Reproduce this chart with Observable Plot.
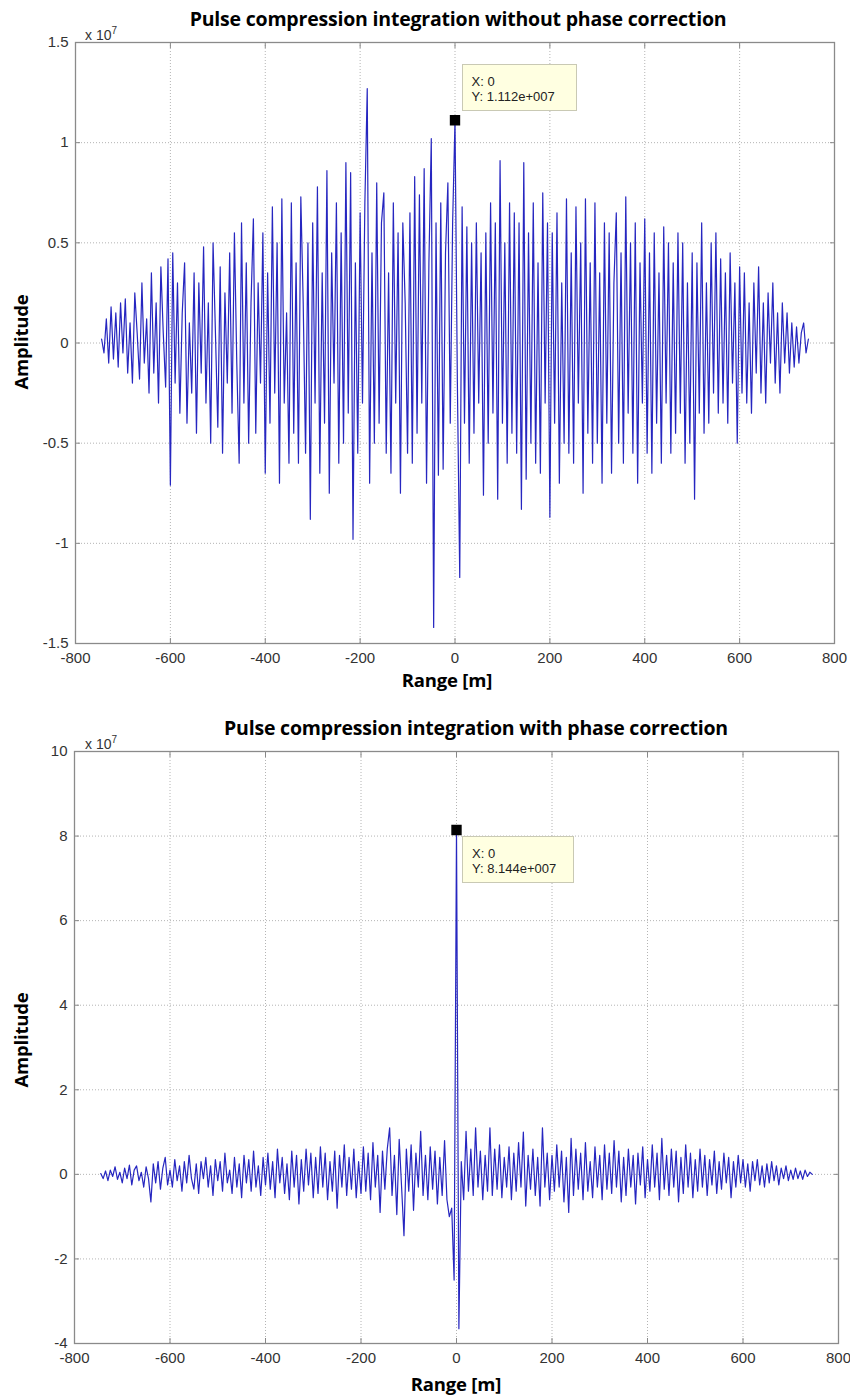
<!DOCTYPE html>
<html><head><meta charset="utf-8">
<script src="https://cdn.jsdelivr.net/npm/d3@7"></script>
<script src="https://cdn.jsdelivr.net/npm/@observablehq/plot@0.6"></script>
<style>
html,body{margin:0;padding:0;background:#fff;}
#fig{position:relative;width:850px;height:1395px;overflow:hidden;background:#fff;}
.abs{position:absolute;white-space:nowrap;}
.bold{font-family:"Open Sans",Lato,sans-serif;font-weight:700;font-size:19.5px;color:#000;transform:translate(-50%,-50%);letter-spacing:-0.2px;}
.lab{font-size:18.5px;}
.rot{transform:translate(-50%,-50%) rotate(-90deg);}
.exp{font-family:"Liberation Sans",Arial,sans-serif;font-size:14px;color:#333;}
.exp sup{font-size:10px;vertical-align:6px;}
.tip{background:#ffffe1;border:1px solid #c9c9b4;font-family:"Liberation Sans",Arial,sans-serif;font-size:13px;color:#222;line-height:15px;padding:9px 0 0 9px;box-sizing:border-box;}
</style></head>
<body><div id="fig"></div>
<script>
// Sampling grid of the range axis (metres)
const rangeStart = -745;
const rangeStep = 5;

// Tick values and labels
const xTicks = [-800, -600, -400, -200, 0, 200, 400, 600, 800];
const xTickLabels = ["-800", "-600", "-400", "-200", "0", "200", "400", "600", "800"];
const y1Ticks = [-1.5, -1, -0.5, 0, 0.5, 1, 1.5];
const y1TickLabels = ["-1.5", "-1", "-0.5", "0", "0.5", "1", "1.5"];
const y2Ticks = [-4, -2, 0, 2, 4, 6, 8, 10];
const y2TickLabels = ["-4", "-2", "0", "2", "4", "6", "8", "10"];

// Titles
const titles = ["Pulse compression integration without phase correction",
                "Pulse compression integration with phase correction"];
const xLabel = "Range [m]";
const yLabel = "Amplitude";

// Amplitude (x 10^7) without phase correction, one value per 5 m from -745 m to 745 m
const ampNoCorrection = [
  0.02, -0.05, 0.12, -0.1, 0.18, -0.08, 0.15, -0.12, 0.2, -0.05,
  0.22, -0.15, 0.1, -0.2, 0.25, 0.05, -0.18, 0.3, -0.1, 0.12,
  -0.25, 0.35, -0.15, 0.2, -0.3, 0.38, 0.05, -0.22, 0.42, -0.71,
  0.45, -0.2, 0.3, -0.35, 0.15, 0.4, -0.4, 0.1, -0.25, 0.35,
  -0.45, 0.3, -0.15, 0.48, -0.3, 0.2, -0.5, 0.5, 0.05, -0.42,
  0.38, -0.55, 0.25, -0.2, 0.45, -0.35, 0.55, -0.1, -0.6, 0.6,
  -0.3, 0.4, -0.5, 0.2, 0.62, -0.45, 0.3, -0.2, 0.55, -0.65,
  0.35, -0.4, 0.68, -0.25, 0.5, -0.7, 0.72, -0.3, 0.15, -0.6,
  0.7, -0.45, 0.4, -0.6, 0.73, 0.2, -0.55, 0.5, -0.88, 0.6,
  -0.3, 0.78, -0.65, 0.35, -0.4, 0.86, -0.75, 0.45, -0.2, 0.7,
  -0.6, 0.55, -0.5, 0.9, -0.35, 0.85, -0.98, 0.4, -0.55, 0.65,
  -0.3, 0.7, 1.27, -0.7, 0.45, -0.5, 0.8, -0.4, 0.6, 0.75,
  -0.55, 0.35, -0.65, 0.7, -0.3, 0.55, -0.75, 0.6, 0.2, -0.55,
  0.65, -0.6, 0.83, -0.45, 0.74, -0.3, 0.87, -0.7, 0.4, 1.02,
  -1.42, 0.6, -0.66, 0.7, -0.63, 0.45, 0.8, -0.4, 0.6, 1.112,
  -0.2, -1.17, 0.68, -0.4, 0.58, -0.6, 0.5, -0.45, 0.6, -0.3,
  0.45, -0.76, 0.55, -0.5, 0.7, -0.35, 0.6, -0.78, 0.91, -0.4,
  0.5, -0.6, 0.7, -0.45, 0.65, -0.55, 0.6, -0.83, 0.9, -0.68,
  0.55, -0.5, 0.7, -0.6, 0.4, -0.65, 0.75, -0.3, 0.6, -0.87,
  0.55, -0.4, 0.65, -0.7, 0.3, -0.5, 0.72, -0.55, 0.45, -0.6,
  0.68, -0.3, 0.5, -0.75, 0.72, -0.45, 0.4, -0.6, 0.7, -0.5,
  0.35, -0.7, 0.6, -0.4, 0.55, -0.65, 0.3, 0.65, -0.5, 0.45,
  -0.6, 0.73, -0.35, 0.5, -0.55, 0.6, -0.7, 0.4, -0.3, 0.62,
  -0.55, 0.45, -0.65, 0.55, -0.4, 0.35, -0.6, 0.58, -0.3, 0.5,
  -0.55, 0.4, -0.45, 0.55, -0.35, 0.5, -0.6, 0.3, -0.5, 0.45,
  -0.78, 0.4, -0.35, 0.6, -0.45, 0.3, -0.4, 0.5, -0.25, 0.55,
  -0.35, 0.42, -0.3, 0.35, -0.4, 0.45, -0.2, 0.3, -0.5, 0.38,
  -0.25, 0.35, -0.3, 0.2, -0.35, 0.3, -0.15, 0.38, -0.25, 0.2,
  -0.3, 0.25, -0.1, 0.3, -0.2, 0.15, -0.25, 0.2, -0.1, 0.15,
  -0.15, 0.1, -0.12, 0.08, -0.1, 0.05, 0.1, -0.05, 0.02
];

// Amplitude (x 10^7) with phase correction, one value per 5 m from -745 m to 745 m
const ampWithCorrection = [
  0.02, -0.1, 0.08, -0.15, 0.1, -0.05, 0.18, -0.12, 0.05, -0.2,
  0.15, -0.1, 0.22, -0.25, 0.1, 0.2, -0.15, 0.05, -0.3, 0.18,
  -0.1, -0.65, 0.25, -0.2, 0.3, -0.35, 0.15, 0.4, -0.25, 0.1,
  -0.3, 0.35, -0.15, 0.2, -0.4, 0.3, -0.2, 0.45, -0.1, -0.35,
  0.25, -0.45, 0.3, -0.1, 0.4, -0.3, 0.2, -0.5, 0.35, -0.15,
  0.3, -0.4, 0.5, -0.2, 0.1, -0.45, 0.4, -0.3, 0.25, -0.55,
  0.45, -0.2, 0.35, -0.4, 0.55, -0.3, 0.2, -0.5, 0.4, -0.25,
  0.5, -0.35, 0.3, -0.55, 0.6, -0.2, 0.4, -0.45, 0.25, -0.6,
  0.55, -0.3, 0.45, -0.7, 0.35, -0.4, 0.6, -0.25, 0.5, -0.55,
  0.4, -0.45, 0.65, -0.3, 0.5, -0.6, 0.3, -0.4, 0.55, -0.8,
  0.45, -0.3, 0.7, -0.5, 0.4, -0.35, 0.6, -0.55, 0.3, -0.45,
  0.65, -0.4, 0.5, -0.6, 0.75, -0.3, 0.45, -0.9, 0.55, -0.35,
  0.6, 1.1, -0.5, 0.45, -0.95, 0.83, -0.3, -1.45, 0.6, -0.4,
  0.7, -0.85, 0.5, -0.3, 1.02, -0.5, 0.45, -0.6, 0.65, -0.35,
  0.55, -0.7, 0.4, -0.5, 0.8, -0.6, -1.0, -0.8, -2.5, 8.144,
  -3.65, 0.3, -0.6, 1.02, -0.4, 0.6, -0.5, 1.1, -0.3, 0.55,
  -0.6, 0.45, -0.4, 1.1, -0.5, 0.6, -0.35, 0.7, -0.55, 0.4,
  -0.3, 0.65, -0.6, 0.5, -0.4, 0.75, -0.3, 1.0, -0.75, 0.45,
  -0.35, 0.6, -0.5, 0.4, -0.75, 1.1, -0.3, 0.5, -0.6, 0.45,
  -0.4, 0.7, -0.3, 0.55, -0.65, 0.4, -0.9, 0.85, -0.5, 0.6,
  -0.35, 0.5, -0.6, 0.75, -0.4, 0.3, -0.55, 0.65, -0.3, 0.45,
  -0.6, 0.7, -0.35, 0.5, -0.45, 0.8, -0.3, 0.55, -0.65, 0.4,
  -0.5, 0.6, -0.3, 0.45, -0.7, 0.5, -0.25, 0.65, -0.55, 0.35,
  -0.4, 0.7, -0.3, 0.5, -0.6, 0.85, -0.35, 0.45, -0.5, 0.6,
  -0.3, 0.55, -0.65, 0.4, -0.45, 0.7, -0.3, 0.5, -0.55, 0.35,
  -0.4, 0.6, -0.3, 0.45, -0.5, 0.35, -0.25, 0.55, -0.45, 0.3,
  -0.35, 0.5, -0.2, 0.4, -0.55, 0.3, -0.3, 0.45, -0.2, 0.35,
  -0.3, 0.25, -0.4, 0.3, -0.15, 0.35, -0.25, 0.2, -0.3, 0.25,
  -0.2, 0.3, -0.15, 0.2, -0.25, 0.15, -0.1, 0.2, -0.15, 0.1,
  -0.12, 0.15, -0.1, 0.08, -0.12, 0.1, -0.05, 0.05, 0.0
];

// Data tips
const tip1 = {x: 0, y: 1.112, lines: ["X: 0", "Y: 1.112e+007"]};
const tip2 = {x: 0, y: 8.144, lines: ["X: 0", "Y: 8.144e+007"]};

const fig = document.getElementById("fig");
const lineColor = "#2626c0";
const gridStyle = {stroke: "#b4b4b4", strokeWidth: 1, strokeDasharray: "1,2"};
const tickFont = {fontSize: 15, fill: "#333", fontFamily: "'Liberation Sans', Arial, sans-serif"};

function addText(cls, text, x, y) {
  const d = document.createElement("div");
  d.className = "abs " + cls;
  d.style.left = x + "px"; d.style.top = y + "px";
  d.innerHTML = text;
  fig.append(d);
  return d;
}

function panel(cfg) {
  const data = cfg.values.map((v, i) => ({range: rangeStart + i * rangeStep, amp: v}));
  const fmtX = d => xTickLabels[xTicks.indexOf(d)];
  const fmtY = d => cfg.yLabels[cfg.yTicks.indexOf(d)];
  const svg = Plot.plot({
    width: 850, height: cfg.height,
    marginTop: cfg.mT, marginBottom: cfg.mB, marginLeft: cfg.mL, marginRight: cfg.mR,
    x: {domain: [xTicks[0], xTicks[xTicks.length - 1]]},
    y: {domain: [cfg.yTicks[0], cfg.yTicks[cfg.yTicks.length - 1]]},
    style: {background: "white", overflow: "visible"},
    marks: [
      Plot.ruleX(xTicks.slice(1, -1), gridStyle),
      Plot.ruleY(cfg.yTicks.slice(1, -1), gridStyle),
      Plot.line(data, {x: "range", y: "amp", stroke: lineColor, strokeWidth: 1.2}),
      Plot.axisX({anchor: "bottom", ticks: xTicks, tickSize: -5, tickFormat: () => "", label: null, stroke: "#888"}),
      Plot.axisX({anchor: "top", ticks: xTicks, tickSize: -5, tickFormat: () => "", label: null, stroke: "#888"}),
      Plot.axisY({anchor: "left", ticks: cfg.yTicks, tickSize: -5, tickFormat: () => "", label: null, stroke: "#888"}),
      Plot.axisY({anchor: "right", ticks: cfg.yTicks, tickSize: -5, tickFormat: () => "", label: null, stroke: "#888"}),
      Plot.axisX({anchor: "bottom", ticks: xTicks, tickSize: 0, tickPadding: 9, tickFormat: fmtX, label: null, ...tickFont}),
      Plot.axisY({anchor: "left", ticks: cfg.yTicks, tickSize: 0, tickPadding: 7, tickFormat: fmtY, label: null, ...tickFont}),
      Plot.frame({stroke: "#8a8a8a", strokeWidth: 1.3}),
      Plot.dot([cfg.tip], {x: "x", y: "y", symbol: "square", fill: "black", stroke: "black", r: 5})
    ]
  });
  svg.style.position = "absolute";
  svg.style.left = "0px";
  svg.style.top = cfg.top + "px";
  fig.append(svg);
  const px = svg.scale("x").apply(cfg.tip.x);
  const py = svg.scale("y").apply(cfg.tip.y) + cfg.top;
  const t = document.createElement("div");
  t.className = "abs tip";
  t.style.left = (px + cfg.tipDx) + "px";
  t.style.top = (py + cfg.tipDy) + "px";
  t.style.width = cfg.tipW + "px";
  t.style.height = "47px";
  t.innerHTML = cfg.tip.lines.join("<br>");
  fig.append(t);
}

panel({top: 0, height: 690, mT: 42, mB: 47, mL: 75, mR: 16,
  yTicks: y1Ticks, yLabels: y1TickLabels, values: ampNoCorrection,
  tip: tip1, tipDx: 7, tipDy: -56, tipW: 115});
panel({top: 700, height: 695, mT: 51, mB: 52, mL: 74, mR: 12,
  yTicks: y2Ticks, yLabels: y2TickLabels, values: ampWithCorrection,
  tip: tip2, tipDx: 6, tipDy: 7, tipW: 112});

addText("bold", titles[0], 458, 18);
addText("bold", titles[1], 476, 727);
addText("bold lab", xLabel, 447, 679);
addText("bold lab", xLabel, 456, 1383);
addText("bold lab rot", yLabel, 20, 342);
addText("bold lab rot", yLabel, 20, 1040);
addText("exp", "x 10<sup>7</sup>", 85, 25);
addText("exp", "x 10<sup>7</sup>", 85, 734);
</script></body></html>
